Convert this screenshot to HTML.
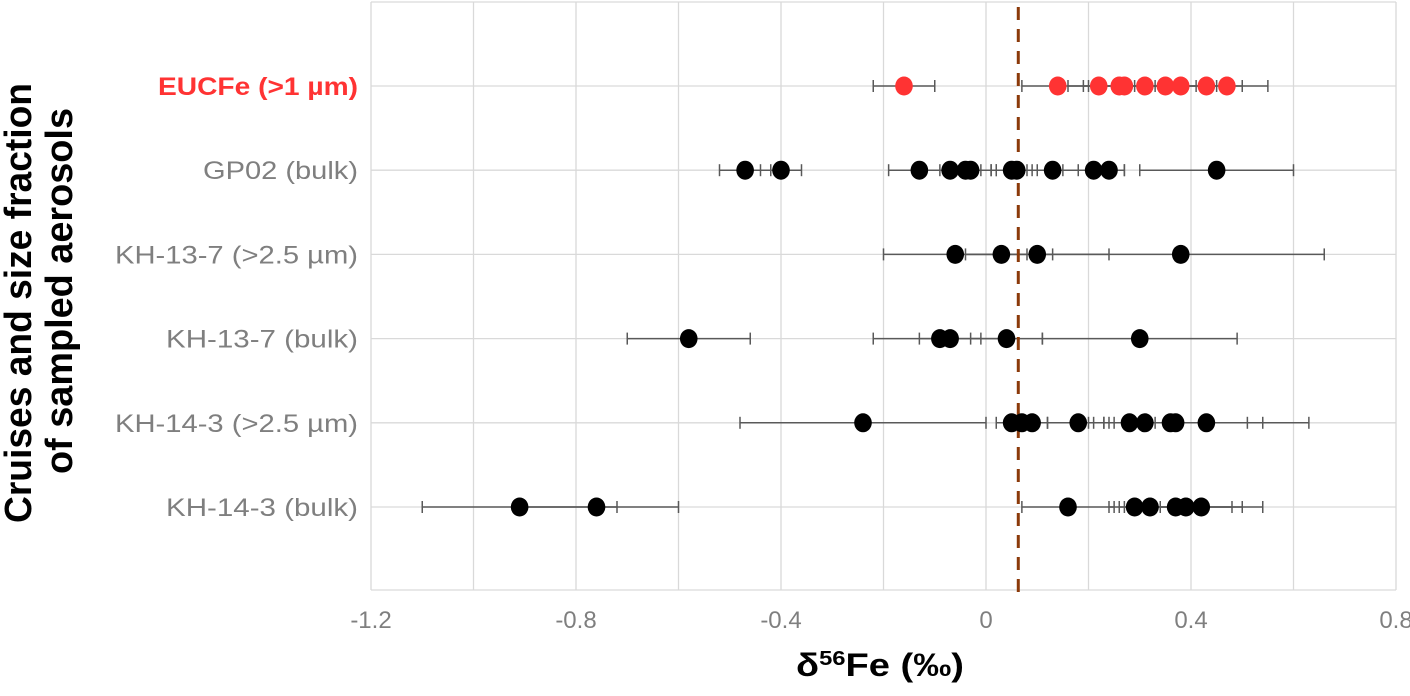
<!DOCTYPE html>
<html><head><meta charset="utf-8"><style>
body{margin:0;background:#fff;}
svg{display:block;font-family:"Liberation Sans",sans-serif;}
</style></head><body>
<svg id="chart" width="1410" height="696">
<g id="grid"></g>
<g id="marks"></g>
<g id="labels"></g>
<g transform="translate(0,0) rotate(-90)">
<text x="-303" y="31" text-anchor="middle" font-size="38" font-weight="bold" fill="#000" textLength="440" lengthAdjust="spacingAndGlyphs">Cruises and size fraction</text>
<text x="-291" y="72" text-anchor="middle" font-size="38" font-weight="bold" fill="#000" textLength="366" lengthAdjust="spacingAndGlyphs">of sampled aerosols</text>
</g>
<text x="880" y="676" text-anchor="middle" font-size="32" font-weight="bold" fill="#000" textLength="168" lengthAdjust="spacingAndGlyphs">δ<tspan baseline-shift="super" font-size="20">56</tspan>Fe (‰)</text>
</svg>
<script>
const categories=["EUCFe (>1 µm)","GP02 (bulk)","KH-13-7 (>2.5 µm)","KH-13-7 (bulk)","KH-14-3 (>2.5 µm)","KH-14-3 (bulk)"];
const labelWidths=[200,155,243,192,243,192];
const values=[
[-0.16,0.14,0.22,0.26,0.27,0.31,0.35,0.38,0.43,0.47],
[-0.47,-0.40,-0.13,-0.07,-0.04,-0.03,0.05,0.06,0.13,0.21,0.24,0.45],
[-0.06,0.03,0.10,0.38],
[-0.58,-0.09,-0.07,0.04,0.30],
[-0.24,0.05,0.07,0.09,0.18,0.28,0.31,0.36,0.37,0.43],
[-0.91,-0.76,0.16,0.29,0.32,0.37,0.39,0.42]];
const errors=[
[0.06,0.07,0.06,0.07,0.07,0.06,0.06,0.07,0.07,0.08],
[0.05,0.04,0.06,0.06,0.05,0.05,0.04,0.04,0.05,0.06,0.03,0.15],
[0.14,0.10,0.14,0.28],
[0.12,0.13,0.06,0.07,0.19],
[0.24,0.03,0.03,0.03,0.06,0.05,0.06,0.15,0.17,0.20],
[0.19,0.16,0.09,0.05,0.05,0.11,0.11,0.12]];
const xTicks=[-1.2,-0.8,-0.4,0,0.4,0.8];
const refLine=0.063;
const X0=371,X1=1396,xmin=-1.2,xmax=0.8,Y0=2,Y1=590;
const xs=v=>X0+(v-xmin)/(xmax-xmin)*(X1-X0);
const ys=i=>86+i*84.2;
const NS="http://www.w3.org/2000/svg";
function mk(t,a,p){const e=document.createElementNS(NS,t);for(const k in a)e.setAttribute(k,a[k]);p.appendChild(e);return e;}
const grid=document.getElementById('grid'),marks=document.getElementById('marks'),labels=document.getElementById('labels');
for(let v=xmin;v<=xmax+1e-9;v+=0.2){
const l=mk('line',{x1:xs(v),x2:xs(v),y1:Y0,y2:Y1,stroke:'#d9d9d9','stroke-width':1.3},grid);

}
mk('line',{x1:X0,x2:X1,y1:Y1,y2:Y1,stroke:'#d9d9d9','stroke-width':1.3},grid);
mk('line',{x1:X0,x2:X1,y1:Y0,y2:Y0,stroke:'#d9d9d9','stroke-width':1.3},grid);
categories.forEach((c,i)=>{
const l=mk('line',{x1:X0,x2:X1,y1:ys(i),y2:ys(i),stroke:'#d9d9d9','stroke-width':1.3},grid);


const t=mk('text',{x:358,y:ys(i)+9,'text-anchor':'end','font-size':25,fill:i==0?'#ff3333':'#7f7f7f','font-weight':i==0?'bold':'normal',textLength:labelWidths[i],lengthAdjust:'spacingAndGlyphs'},labels);
t.textContent=c;


});
xTicks.forEach(v=>{
const t=mk('text',{x:xs(v),y:628,'text-anchor':'middle','font-size':24,fill:'#7f7f7f'},labels);
t.textContent=(v==0?'0':String(v));


});
values.forEach((row,i)=>{
const y=ys(i);
row.forEach((v,j)=>{const e=errors[i][j];
const g=mk('g',{},marks);


mk('line',{x1:xs(v-e),x2:xs(v+e),y1:y,y2:y,stroke:'#595959','stroke-width':1.5},g);
mk('line',{x1:xs(v-e),x2:xs(v-e),y1:y-6,y2:y+6,stroke:'#595959','stroke-width':1.5},g);
mk('line',{x1:xs(v+e),x2:xs(v+e),y1:y-6,y2:y+6,stroke:'#595959','stroke-width':1.5},g);});
});
const ref=mk('line',{x1:xs(refLine),x2:xs(refLine),y1:Y0+5,y2:Y1+5,stroke:'#8b3a0a','stroke-width':3,'stroke-dasharray':'13,9'},marks);


values.forEach((row,i)=>{
row.forEach(v=>{
const p=mk('ellipse',{cx:xs(v),cy:ys(i),rx:8.8,ry:9.5,fill:i==0?'#ff3333':'#000'},marks);


});});
</script>
</body></html>
